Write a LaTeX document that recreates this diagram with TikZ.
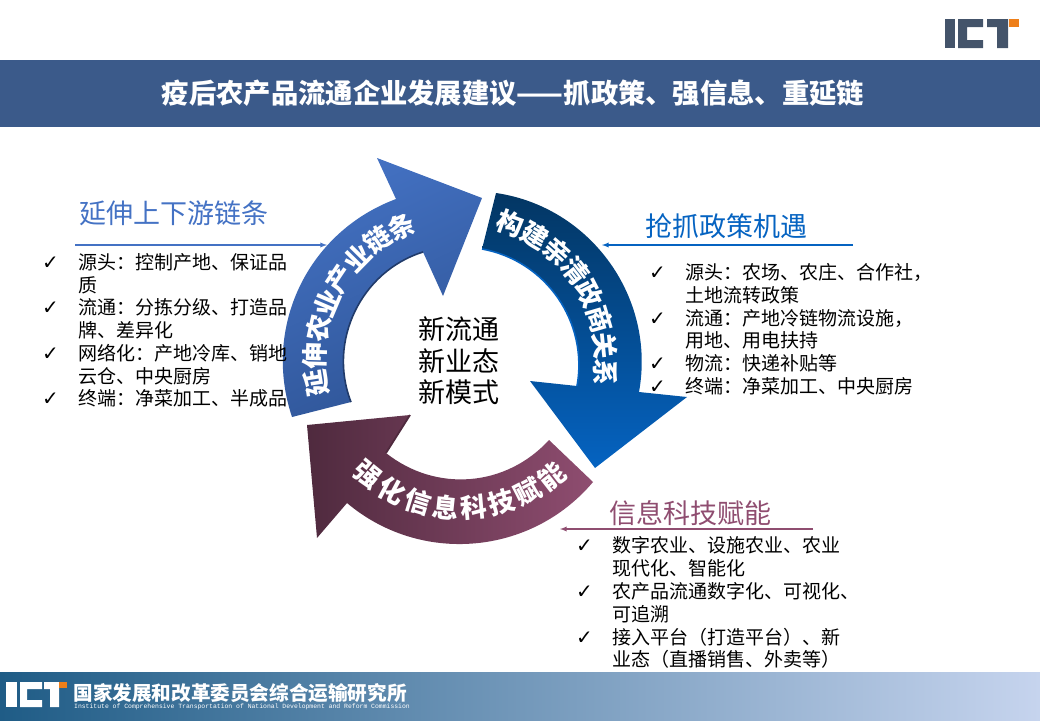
\documentclass[tikz,border=0pt]{standalone}
\usepackage{fontspec}
\setmainfont{Noto Sans CJK SC}
\newfontfamily\checkfont{DejaVu Sans}
\newfontfamily\latinmono{Liberation Mono}
\definecolor{bannerblue}{HTML}{3B5A8A}
\definecolor{logogray}{HTML}{44546A}
\definecolor{logoorange}{HTML}{EE7F1A}
\definecolor{chainblue}{HTML}{4472C4}
\definecolor{chaindark}{HTML}{2F5597}
\definecolor{policyblue}{HTML}{0563C1}
\definecolor{policydark}{HTML}{033663}
\definecolor{techpurple}{HTML}{8F4D70}
\definecolor{techdark}{HTML}{4F2A3E}
\definecolor{footdark}{HTML}{1F5C86}
\definecolor{footmid}{HTML}{5F8FBF}
\definecolor{footlight}{HTML}{C6D4EE}
\tikzset{
	arrowtext/.style={text=white, font=\fontsize{26.5}{26.5}\bfseries\selectfont, inner sep=0pt},
	headtext/.style={font=\fontsize{27}{30}\selectfont, inner sep=0pt},
	listtext/.style={font=\fontsize{19}{22.3}\selectfont, inner sep=0pt, anchor=north west},
	leadline/.style={-latex, line width=1.3pt},
}
\newcommand{\chk}{{\checkfont\fontsize{20}{20}\selectfont ✓}}
\begin{document}
\begin{tikzpicture}[x=1pt,y=-1pt]
	\useasboundingbox (0,0) rectangle (1040,720);
	\fill[bannerblue] (0,60) rectangle (1040,127);
	\shade[left color=footdark, middle color=footmid, right color=footlight] (0,672) rectangle (1040,720);
	\node[text=white, font=\fontsize{27.3}{30}\bfseries\selectfont, inner sep=0pt] (title) at (513,93) {疫后农产品流通企业发展建议——抓政策、强信息、重延链};
	% logo top right
	\fill[logogray] (945,19) rectangle (955,48);
	\fill[logogray] (958,19) -- (983,19) -- (983,27) -- (967,27) -- (967,40) -- (983,40) -- (983,48) -- (958,48) -- cycle;
	\fill[logogray] (987,19) -- (1008,19) -- (1008,48) -- (997,48) -- (997,27) -- (987,27) -- cycle;
	\fill[logoorange] (1009,19) rectangle (1019,27);
	% logo footer
	\fill[white] (6,682) rectangle (17,707);
	\fill[white] (20,682) -- (42,682) -- (42,689) -- (27,689) -- (27,700) -- (42,700) -- (42,707) -- (20,707) -- cycle;
	\fill[white] (44,682) -- (59,682) -- (59,707) -- (50,707) -- (50,689) -- (44,689) -- cycle;
	\fill[logoorange] (59,682) rectangle (67,688);
	\node[text=white, font=\fontsize{19.6}{20}\bfseries\selectfont, inner sep=0pt] (institute) at (240,693) {国家发展和改革委员会综合运输研究所};
	\node[text=white, font=\latinmono\fontsize{6.43}{7}\selectfont, inner sep=0pt] (instituteen) at (242,707) {Institute of Comprehensive Transportation of National Development and Reform Commission};
	% three arrows
	\shade[top color=chainblue, bottom color=chaindark, shading angle=25] (292,417) to[bend left=44] (396,199) -- (377,158) -- (482,198) -- (443,296) -- (423,252) to[bend right=47] (351,402) -- cycle;
	\draw[chaindark!70!black, line width=1.6pt] (423,252) to[bend right=47] (351,402);
	\shade[top color=policydark, middle color=policydark!35!policyblue, bottom color=policyblue] (496,193) to[bend left=46] (639,392) -- (687,397) -- (595,468) -- (530,381) -- (577,386) to[bend right=45] (482,249) -- cycle;
	\draw[policyblue, line width=1.6pt] (577,386) to[bend right=45] (482,249);
	\shade[left color=techdark, right color=techpurple] (593,482) to[bend left=45] (347,503) -- (317,538) -- (307,425) -- (410,415) -- (386,453) to[bend right=43] (549,440) -- cycle;
	\draw[techdark, line width=1.8pt] (410,415) -- (386,453);
	% text on the arrows
	\coordinate (hub) at (461,360);
	\begin{scope}[shift={(hub)}]
		\foreach \ch [count=\i] in {延,伸,农,业,产,业,链,条} {
			\pgfmathsetmacro{\ang}{171+(\i-1)*10.7}
			\node[arrowtext, rotate=270-\ang] (chain\i) at (\ang:146) {\ch};
		}
		\foreach \ch [count=\i] in {构,建,亲,清,政,商,关,系} {
			\pgfmathsetmacro{\ang}{290+(\i-1)*10.7}
			\node[arrowtext, rotate=270-\ang] (policy\i) at (\ang:145) {\ch};
		}
		\foreach \ch [count=\i] in {强,化,信,息,科,技,赋,能} {
			\pgfmathsetmacro{\ang}{129-(\i-1)*11}
			\node[arrowtext, rotate=90-\ang] (tech\i) at (\ang:148) {\ch};
		}
	\end{scope}
	\node[align=center, font=\fontsize{27}{31.5}\selectfont, inner sep=0pt] (center) at (459,361) {新流通\\新业态\\新模式};
	% left block
	\node[headtext, text=chainblue] (chainhead) at (174,213) {延伸上下游链条};
	\coordinate (chainstart) at (75,245);
	\coordinate (chainend) at (327,245);
	\draw[leadline, chainblue] (chainstart) -- (chainend);
	\node[listtext] (chainlist) at (42,253.5) {\begin{tabular}{@{}p{36pt}@{}l@{}}
		\chk & 源头：控制产地、保证品 \\
		& 质 \\
		\chk & 流通：分拣分级、打造品 \\
		& 牌、差异化 \\
		\chk & 网络化：产地冷库、销地 \\
		& 云仓、中央厨房 \\
		\chk & 终端：净菜加工、半成品
	\end{tabular}};
	% right block
	\node[headtext, text=policyblue] (policyhead) at (726,226) {抢抓政策机遇};
	\coordinate (policystart) at (853,245);
	\coordinate (policyend) at (602,245);
	\draw[leadline, policyblue] (policystart) -- (policyend);
	\node[listtext] (policylist) at (649,263.5) {\begin{tabular}{@{}p{36pt}@{}l@{}}
		\chk & 源头：农场、农庄、合作社， \\
		& 土地流转政策 \\
		\chk & 流通：产地冷链物流设施， \\
		& 用地、用电扶持 \\
		\chk & 物流：快递补贴等 \\
		\chk & 终端：净菜加工、中央厨房
	\end{tabular}};
	% bottom block
	\node[headtext, text=techpurple] (techhead) at (690,513) {信息科技赋能};
	\coordinate (techstart) at (813,529);
	\coordinate (techend) at (560,529);
	\draw[leadline, techpurple] (techstart) -- (techend);
	\node[listtext] (techlist) at (576,536.5) {\begin{tabular}{@{}p{36pt}@{}l@{}}
		\chk & 数字农业、设施农业、农业 \\
		& 现代化、智能化 \\
		\chk & 农产品流通数字化、可视化、 \\
		& 可追溯 \\
		\chk & 接入平台（打造平台）、新 \\
		& 业态（直播销售、外卖等）
	\end{tabular}};
\end{tikzpicture}
\end{document}
